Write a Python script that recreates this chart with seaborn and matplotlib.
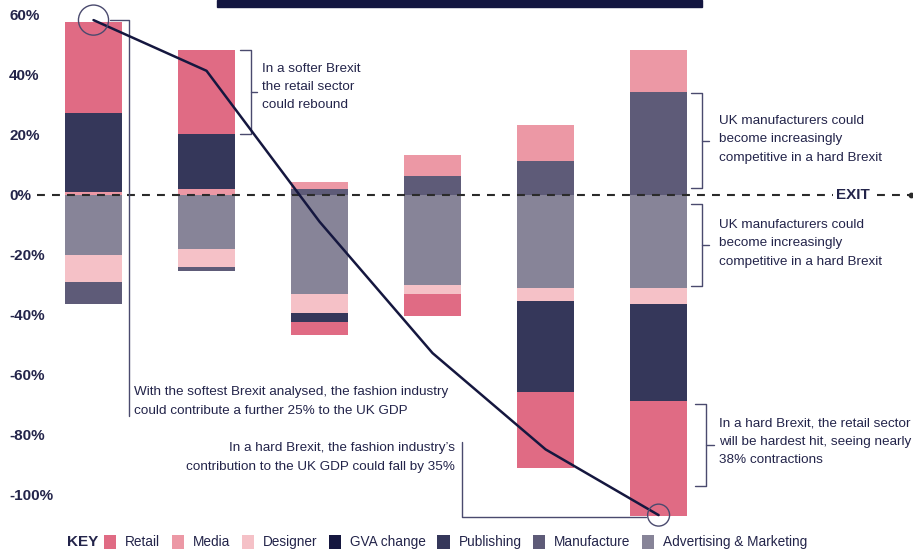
import matplotlib
matplotlib.use("Agg")
import matplotlib.pyplot as plt
import numpy as np
import seaborn as sns
from matplotlib.patches import Patch, Rectangle

# Brexit scenarios, softest (left) to hardest (right), change in % by sector
scenarios = ["S1", "S2", "S3", "S4", "S5", "S6"]
advertising = [-20.0, -18.0, -33.0, -30.0, -31.0, -31.0]
designer = [-9.0, -6.0, -6.3, -3.0, -4.3, -5.3]
manufacture = [-7.2, -1.2, 2.0, 6.3, 11.3, 34.3]
media = [1.0, 2.0, 2.3, 7.0, 12.0, 14.0]
publishing = [26.3, 18.3, -3.0, 0.0, -30.4, -32.4]
retail = [30.4, 28.0, -4.4, -7.3, -25.3, -38.3]
gva_change = [58.3, 41.4, -8.9, -52.7, -84.8, -106.7]

y_ticks = [60, 40, 20, 0, -20, -40, -60, -80, -100]

colors = {
    "Retail": "#e06b84",
    "Media": "#ec98a5",
    "Designer": "#f5c1c7",
    "GVA change": "#15173f",
    "Publishing": "#35375a",
    "Manufacture": "#5e5b78",
    "Advertising & Marketing": "#878498",
}
text_col = "#23244a"
line_col = "#4a4a6e"

sns.set_theme(style="white")
plt.rcParams["font.family"] = ["Liberation Sans", "DejaVu Sans"]

fig = plt.figure(figsize=(9.13, 5.5), dpi=100)
ax = fig.add_axes([37 / 913, 25 / 550, 1 - 37 / 913, 525 / 550])

x = np.arange(len(scenarios))
width = 0.504

# stacking order away from zero
sectors = [
    ("Advertising & Marketing", advertising),
    ("Designer", designer),
    ("Manufacture", manufacture),
    ("Media", media),
    ("Publishing", publishing),
    ("Retail", retail),
]
pos_base = np.zeros(len(x))
neg_base = np.zeros(len(x))
tops = {}
for name, vals in sectors:
    v = np.array(vals)
    bottom = np.where(v >= 0, pos_base, neg_base)
    ax.bar(x, v, width=width, bottom=bottom, color=colors[name], linewidth=0, zorder=2)
    tops[name] = bottom + v
    pos_base = pos_base + np.where(v > 0, v, 0)
    neg_base = neg_base + np.where(v < 0, v, 0)

# zero / exit line
ax.axhline(0, color="#2b2b2b", lw=1.5, dashes=(3.8, 3.4), zorder=3, clip_on=False)
ax.text(6.72, 0, "EXIT", ha="center", va="center", fontsize=11, fontweight="bold",
        color=text_col, zorder=4, bbox=dict(facecolor="white", edgecolor="none", pad=2))
ax.scatter([7.23], [0], s=10, color="#2b2b2b", zorder=4, clip_on=False)

# GVA change line
sns.lineplot(x=x, y=gva_change, ax=ax, color=colors["GVA change"], lw=1.8, zorder=5)
ax.scatter([x[0]], [gva_change[0]], s=470, facecolor="none", edgecolor=line_col, lw=1, zorder=6)
ax.scatter([x[-1]], [gva_change[-1]], s=250, facecolor="none", edgecolor=line_col, lw=1,
           zorder=6, clip_on=False)


def bracket(xv, y0, y1, left=0.097, tick=0.06):
    ax.plot([xv - left, xv, xv, xv - left], [y0, y0, y1, y1], color=line_col, lw=1,
            zorder=3, clip_on=False)
    ym = (y0 + y1) / 2
    ax.plot([xv, xv + tick], [ym, ym], color=line_col, lw=1, zorder=3)


tkw = dict(fontsize=9.7, color=text_col, linespacing=1.7, va="center")

bracket(1.391, tops["Retail"][1], tops["Publishing"][1])
ax.text(1.49, 36, "In a softer Brexit\nthe retail sector\ncould rebound", ha="left", **tkw)

bracket(5.386, 34.0, 2.2)
ax.text(5.535, 18.6, "UK manufacturers could\nbecome increasingly\ncompetitive in a hard Brexit",
        ha="left", **tkw)
bracket(5.386, -3.1, -30.3)
ax.text(5.535, -16.1, "UK manufacturers could\nbecome increasingly\ncompetitive in a hard Brexit",
        ha="left", **tkw)
bracket(5.417, -69.8, -96.9, tick=0.07)
ax.text(5.535, -82.2, "In a hard Brexit, the retail sector\nwill be hardest hit, seeing nearly\n38% contractions",
        ha="left", **tkw)

ax.plot([0.146, 0.314, 0.314], [gva_change[0], gva_change[0], -73.6], color=line_col, lw=1, zorder=3)
ax.text(0.358, -68.8, "With the softest Brexit analysed, the fashion industry\n"
        "could contribute a further 25% to the UK GDP", ha="left", **tkw)

ax.plot([3.258, 3.258, 4.889], [-82.2, -107.2, -107.2], color=line_col, lw=1, zorder=3, clip_on=False)
ax.text(3.2, -87.5, "In a hard Brexit, the fashion industry\u2019s\n"
        "contribution to the UK GDP could fall by 35%", ha="right", **tkw)

ax.set_xlim(-0.5, 7.251)
ax.set_ylim(-110, 65)
ax.set_xticks([])
ax.set_yticks(y_ticks)
ax.set_yticklabels([f"{t}%" for t in y_ticks], ha="left", fontweight="bold", fontsize=11,
                   color=text_col)
ax.tick_params(axis="y", length=0, pad=20)
sns.despine(ax=ax, left=True, bottom=True)

# title bar (cut off at the top)
fig.patches.append(Rectangle((217 / 913, 1 - 7 / 550), 485 / 913, 7 / 550,
                             transform=fig.transFigure, color="#131640"))

# key
fig.text(67 / 913, 8 / 550, "KEY", fontsize=11, fontweight="bold", color=text_col, va="center")
handles = [Patch(facecolor=c, edgecolor="none", label=n) for n, c in colors.items()]
fig.legend(handles=handles, ncol=7, loc="center left", bbox_to_anchor=(104 / 913, 8 / 550),
           frameon=False, fontsize=9.8, handlelength=0.9, handleheight=1.2,
           handletextpad=0.65, columnspacing=0.85, borderpad=0, borderaxespad=0,
           labelcolor=text_col)

fig.savefig("out.png", dpi=100)
